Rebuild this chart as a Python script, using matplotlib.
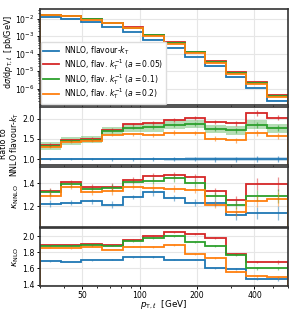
import numpy as np
import matplotlib
matplotlib.use('Agg')
import matplotlib.pyplot as plt
from matplotlib.ticker import FixedLocator, ScalarFormatter, NullFormatter

# bin edges in lepton pT [GeV]
edges = [30, 38.5, 49.4, 63.3, 81.3, 104, 134, 172, 220, 283, 363, 466, 600]

# d sigma / d pT [pb/GeV]
xs_kt = [1.2e-2, 1.0e-2, 6.0e-3, 3.4e-3, 1.7e-3, 6.4e-4, 2.2e-4, 6.5e-5, 1.9e-5, 4.5e-6, 1.1e-6, 2.1e-7]
xs_a005 = [1.63e-2, 1.47e-2, 9.1e-3, 5.9e-3, 3.2e-3, 1.21e-3, 4.4e-4, 1.31e-4, 3.6e-5, 8.5e-6, 2.35e-6, 4.3e-7]
xs_a01 = [1.6e-2, 1.45e-2, 8.9e-3, 5.8e-3, 3.0e-3, 1.15e-3, 4.1e-4, 1.22e-4, 3.3e-5, 7.7e-6, 2.0e-6, 3.7e-7]
xs_a02 = [1.56e-2, 1.42e-2, 8.8e-3, 5.5e-3, 2.75e-3, 1.03e-3, 3.65e-4, 1.07e-4, 2.9e-5, 6.6e-6, 1.8e-6, 3.3e-7]

# ratio to NNLO flavour-kT
r_kt = [1.0] * 12
r_kt_err = [0.03, 0.03, 0.03, 0.03, 0.03, 0.03, 0.04, 0.05, 0.05, 0.05, 0.05, 0.05]
r_a005 = [1.36, 1.47, 1.51, 1.73, 1.86, 1.89, 1.98, 2.02, 1.92, 1.89, 2.14, 2.03]
r_a01 = [1.33, 1.45, 1.48, 1.70, 1.78, 1.79, 1.85, 1.87, 1.75, 1.71, 1.85, 1.77]
r_a02 = [1.30, 1.42, 1.46, 1.61, 1.62, 1.61, 1.66, 1.65, 1.51, 1.47, 1.65, 1.57]
r_a01_err = [0.10, 0.10, 0.09, 0.10, 0.10, 0.11, 0.11, 0.10, 0.10, 0.10, 0.11, 0.11]
r_err = [0.03, 0.03, 0.03, 0.04, 0.04, 0.05, 0.05, 0.05, 0.06, 0.06, 0.08, 0.07]

# K factors NNLO/NLO
kn_kt = [1.22, 1.23, 1.24, 1.21, 1.28, 1.32, 1.27, 1.23, 1.23, 1.12, 1.14, 1.14]
kn_a005 = [1.33, 1.41, 1.37, 1.37, 1.43, 1.46, 1.47, 1.45, 1.33, 1.25, 1.39, 1.39]
kn_a01 = [1.32, 1.39, 1.35, 1.36, 1.41, 1.42, 1.44, 1.40, 1.29, 1.21, 1.29, 1.29]
kn_a02 = [1.29, 1.37, 1.32, 1.33, 1.37, 1.36, 1.35, 1.34, 1.21, 1.15, 1.24, 1.26]
kn_err = [0.03, 0.02, 0.02, 0.03, 0.02, 0.03, 0.03, 0.03, 0.03, 0.04, 0.05, 0.06]

# K factors NLO/LO
kl_kt = [1.69, 1.68, 1.70, 1.71, 1.74, 1.74, 1.71, 1.71, 1.60, 1.59, 1.47, 1.47]
kl_a005 = [1.89, 1.89, 1.90, 1.89, 1.96, 2.01, 2.05, 2.03, 1.98, 1.78, 1.68, 1.68]
kl_a01 = [1.88, 1.88, 1.89, 1.88, 1.94, 1.98, 2.00, 1.93, 1.88, 1.77, 1.60, 1.60]
kl_a02 = [1.86, 1.85, 1.87, 1.83, 1.87, 1.87, 1.89, 1.78, 1.73, 1.56, 1.50, 1.49]
kl_err = [0.005, 0.005, 0.005, 0.005, 0.005, 0.01, 0.01, 0.01, 0.01, 0.01, 0.015, 0.02]

labels = ['NNLO, flavour-$k_\\mathrm{T}$',
          'NNLO, flav. $k_\\mathrm{T}^{-1}$ ($a = 0.05$)',
          'NNLO, flav. $k_\\mathrm{T}^{-1}$ ($a = 0.1$)',
          'NNLO, flav. $k_\\mathrm{T}^{-1}$ ($a = 0.2$)']
colors = ['#1f77b4', '#d62728', '#2ca02c', '#ff7f0e']

plt.rcParams['font.size'] = 6
plt.rcParams['axes.edgecolor'] = '#333333'
plt.rcParams['axes.linewidth'] = 1.2

edges = np.array(edges)
centers = np.sqrt(edges[1:] * edges[:-1])

fig, axes = plt.subplots(4, 1, sharex=True, figsize=(2.93, 3.11), dpi=100,
                         gridspec_kw={'height_ratios': [98, 60, 61, 59]})
fig.subplots_adjust(left=0.1365, right=0.983, top=0.971, bottom=0.08, hspace=0.025)
ax1, ax2, ax3, ax4 = axes

# top panel
for ys, c, lab in zip([xs_kt, xs_a005, xs_a01, xs_a02], colors, labels):
    ax1.stairs(ys, edges, color=c, lw=1.3, label=lab)
ax1.stairs(np.array(xs_kt) * 1.03, edges, baseline=np.array(xs_kt) * 0.97,
           fill=True, color=colors[0], alpha=0.25, lw=0)
ax1.set_yscale('log')
ax1.set_ylim(1.2e-7, 3.5e-2)
ax1.set_ylabel('d$\\sigma$/d$p_{\\mathrm{T},\\ell}$  [pb/GeV]', fontsize=5.8)
ax1.legend(loc='lower left', fontsize=5.5, handlelength=2.1, handletextpad=0.6,
           labelspacing=0.0, borderaxespad=0.1, borderpad=0.35,
           framealpha=1, edgecolor='#dddddd')

# ratio panel
r_kt = np.array(r_kt)
ax2.stairs(r_kt + np.array(r_kt_err), edges, baseline=r_kt - np.array(r_kt_err),
           fill=True, color=colors[0], alpha=0.25, lw=0)
ax2.stairs(np.array(r_a01) + np.array(r_a01_err), edges,
           baseline=np.array(r_a01) - np.array(r_a01_err),
           fill=True, color=colors[2], alpha=0.35, lw=0)
for ys, c in zip([r_kt, r_a005, r_a01, r_a02], colors):
    ax2.stairs(ys, edges, color=c, lw=1.3)
    ax2.errorbar(centers, ys, yerr=r_err, fmt='none', ecolor=c, alpha=0.6, lw=0.9)
ax2.set_ylim(0.85, 2.3)
ax2.set_yticks([1.0, 1.5, 2.0])
ax2.set_ylabel('Ratio to\nNNLO flavour-$k_\\mathrm{T}$', fontsize=5.7, linespacing=1.05)

# K NNLO
for ys, c in zip([kn_kt, kn_a005, kn_a01, kn_a02], colors):
    ax3.stairs(ys, edges, color=c, lw=1.3)
    ax3.errorbar(centers, ys, yerr=kn_err, fmt='none', ecolor=c, alpha=0.5, lw=0.9)
ax3.set_ylim(1.02, 1.54)
ax3.set_yticks([1.2, 1.4])
ax3.set_ylabel('$\\kappa_{\\mathrm{NNLO}}$', fontsize=6.5)

# K NLO
for ys, c in zip([kl_kt, kl_a005, kl_a01, kl_a02], colors):
    ax4.stairs(ys, edges, color=c, lw=1.3)
    ax4.errorbar(centers, ys, yerr=kl_err, fmt='none', ecolor=c, alpha=0.5, lw=0.9)
ax4.set_ylim(1.38, 2.1)
ax4.set_yticks([1.4, 1.6, 1.8, 2.0])
ax4.set_ylabel('$\\kappa_{\\mathrm{NLO}}$', fontsize=6.5)

ax4.set_xscale('log')
ax4.set_xlim(30, 600)
ax4.xaxis.set_major_locator(FixedLocator([50, 100, 200, 400]))
ax4.xaxis.set_major_formatter(ScalarFormatter())
ax4.xaxis.set_minor_formatter(NullFormatter())
ax4.set_xlabel('$p_{\\mathrm{T},\\ell}$  [GeV]', fontsize=6.3, labelpad=-1)

for ax in axes:
    ax.grid(True, which='major', color='#e6e6e6', lw=0.8)
    ax.set_axisbelow(True)
    ax.tick_params(which='major', length=2.5, width=0.7, pad=1.5, labelsize=5.6)
    ax.tick_params(which='minor', length=1.5, width=0.6)
ax4.tick_params(axis='x', pad=1)

# y label positions
ax1.yaxis.set_label_coords(-0.1, 0.55)
ax2.yaxis.set_label_coords(-0.077, 0.36)
ax3.yaxis.set_label_coords(-0.075, 0.5)
ax4.yaxis.set_label_coords(-0.075, 0.5)

plt.savefig('out.png', dpi=100)
